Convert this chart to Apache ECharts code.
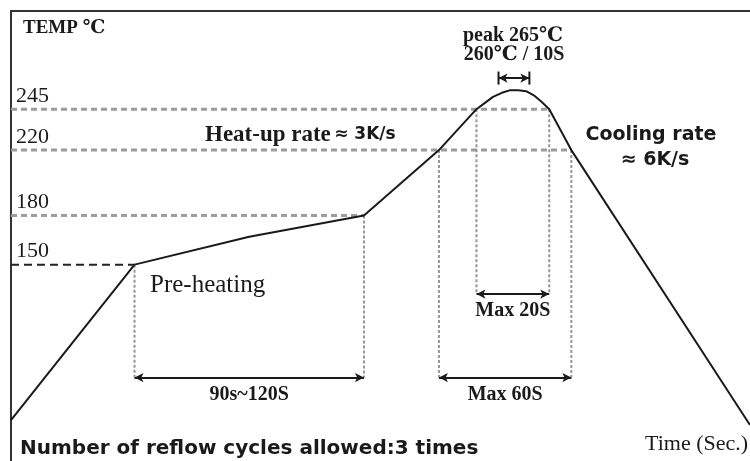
<!DOCTYPE html>
<html>
<head>
<meta charset="utf-8">
<title>Reflow profile</title>
<script src="https://cdn.jsdelivr.net/npm/echarts@6/dist/echarts.min.js"></script>
<style>
  html, body { margin: 0; padding: 0; background: #fff; }
  #chart { width: 750px; height: 461px; }
</style>
</head>
<body>
<div id="chart"></div>
<script>
// profile curve (time in s, temperature in ℃), schematic as in the drawing
const profileTime = [0, 56, 108, 160, 194, 211, 215, 218.5, 222.5, 226, 230, 233.5, 237, 240.5, 244, 254, 335]
const profileTemp = [55, 150, 167, 180, 220, 245, 249, 252.5, 255, 256.5, 256.5, 256, 253.5, 249.5, 245, 220, 52]

// temperature levels and where their guide line meets the curve
const tempTicks = [150, 180, 220, 245]
const levelEnds = [56, 160, 254, 244]

// vertical guides
const dropTime = [56, 160, 194, 254, 211, 244]
const dropTop = [150, 180, 220, 220, 245, 245]
const dropBottom = [81, 81, 81, 81, 132, 132]

// double arrows
const spanStart = [56, 211, 194, 221]
const spanEnd = [160, 244, 254, 235]
const spanTemp = [81, 132, 81, 264]
const spanLabel = ['90s~120S', 'Max 20S', 'Max 60S', '']

const SERIF = '"Liberation Serif", "DejaVu Serif", serif'
const SANS = '"DejaVu Sans", "Liberation Sans", sans-serif'
const INK = '#1a1a1a'

const chart = echarts.init(document.getElementById('chart'))

function getSeries () {
  const arr = []
  // horizontal level lines
  tempTicks.forEach((t, i) => {
    arr.push({
      type: 'line',
      silent: true,
      symbol: 'none',
      data: [[0, t], [levelEnds[i], t]],
      lineStyle: t === 150
        ? { color: '#222', width: 2, type: [8, 5] }
        : { color: '#9c9c9c', width: 3, type: [6, 4] },
      z: 2
    })
  })
  // vertical guides
  dropTime.forEach((x, i) => {
    arr.push({
      type: 'line',
      silent: true,
      symbol: 'none',
      data: [[x, dropTop[i]], [x, dropBottom[i]]],
      lineStyle: { color: '#969696', width: 2, type: [3, 2] },
      z: 2
    })
  })
  // arrows
  arr.push({
    type: 'line',
    silent: true,
    symbol: 'none',
    data: [],
    markLine: {
      silent: true,
      symbol: ['arrow', 'arrow'],
      symbolSize: [7, 9],
      lineStyle: { color: INK, width: 2, type: 'solid' },
      label: {
        show: true,
        position: 'insideMiddleBottom',
        distance: 7,
        formatter: '{b}',
        fontFamily: SERIF,
        fontSize: 20,
        fontWeight: 'bold',
        color: INK
      },
      data: spanStart.map((s, i) => [
        { name: spanLabel[i], coord: [s, spanTemp[i]] },
        { coord: [spanEnd[i], spanTemp[i]] }
      ])
    },
    z: 4
  })
  // end bars of the peak arrow
  ;[spanStart[3], spanEnd[3]].forEach(x => {
    arr.push({
      type: 'line',
      silent: true,
      symbol: 'none',
      data: [[x, spanTemp[3] - 4], [x, spanTemp[3] + 4]],
      lineStyle: { color: INK, width: 2 },
      z: 4
    })
  })
  // the profile
  arr.push({
    type: 'line',
    silent: true,
    symbol: 'none',
    data: profileTime.map((t, i) => [t, profileTemp[i]]),
    lineStyle: { color: INK, width: 2 },
    z: 5
  })
  return arr
}

function txt (x, y, text, font, align) {
  return {
    type: 'text',
    x: x,
    y: y,
    silent: true,
    style: { text: text, font: font, fill: INK, align: align || 'left', verticalAlign: 'middle' }
  }
}

chart.setOption({
  animation: false,
  backgroundColor: '#fff',
  grid: { left: 11, top: 11, right: 0, bottom: 0 },
  xAxis: {
    type: 'value',
    position: 'top',
    min: 0,
    max: 335,
    axisLine: { show: true, onZero: false, lineStyle: { color: '#333', width: 2 } },
    axisTick: { show: false },
    axisLabel: { show: false },
    splitLine: { show: false }
  },
  yAxis: {
    type: 'value',
    min: 30,
    max: 305,
    axisLine: { show: true, onZero: false, lineStyle: { color: '#333', width: 2 } },
    axisTick: { show: false },
    splitLine: { show: false },
    axisLabel: {
      inside: true,
      customValues: tempTicks,
      margin: 5,
      verticalAlign: 'bottom',
      padding: [0, 0, 2, 0],
      fontFamily: SERIF,
      fontSize: 22,
      color: INK
    }
  },
  graphic: [
    txt(23, 28, 'TEMP ℃', 'bold 19px ' + SERIF),
    txt(513, 36, 'peak 265℃', 'bold 20px ' + SERIF, 'center'),
    txt(514, 55, '260℃ / 10S', 'bold 20px ' + SERIF, 'center'),
    {
      type: 'text',
      x: 205,
      y: 135,
      silent: true,
      style: {
        text: '{a|Heat-up rate} {b|≈ 3K/s}',
        verticalAlign: 'middle',
        rich: {
          a: { font: 'bold 23px ' + SERIF, fill: INK },
          b: { font: 'bold 17px ' + SANS, fill: INK }
        }
      }
    },
    txt(651, 135, 'Cooling rate', 'bold 19px ' + SANS, 'center'),
    txt(655, 160, '≈ 6K/s', 'bold 19px ' + SANS, 'center'),
    txt(150, 285, 'Pre-heating', '25px ' + SERIF),
    txt(20, 449, 'Number of reflow cycles allowed:3 times', 'bold 20px ' + SANS),
    txt(645, 444, 'Time (Sec.)', '22px ' + SERIF)
  ],
  series: getSeries()
})
</script>
</body>
</html>
